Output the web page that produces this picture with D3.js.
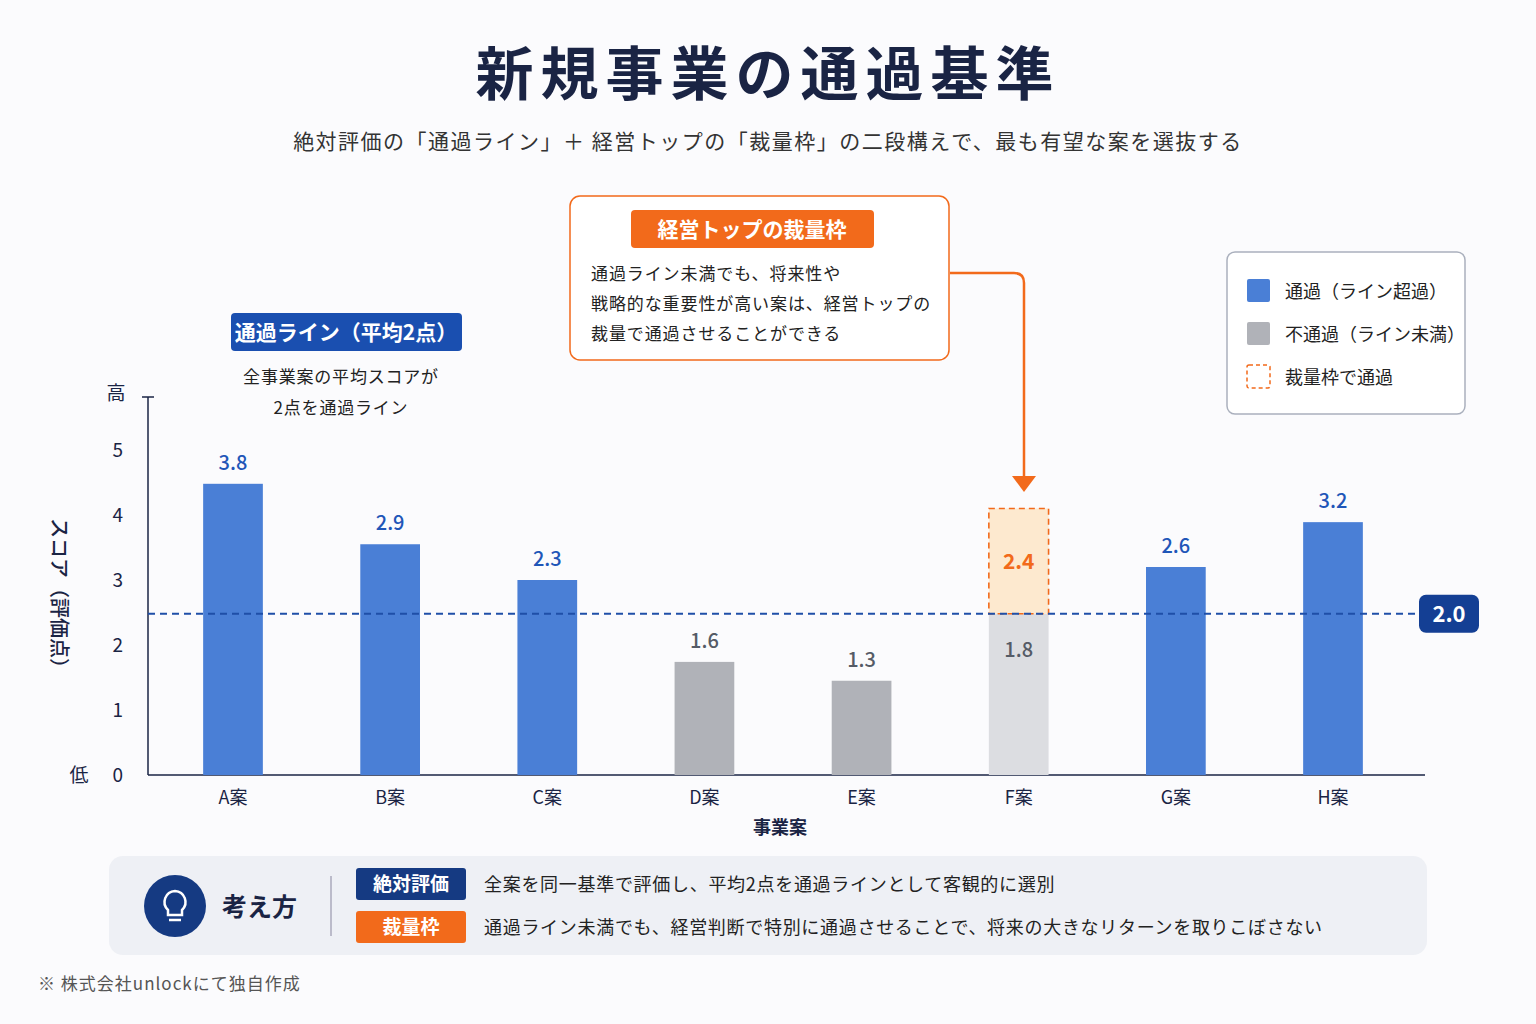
<!DOCTYPE html>
<html><head><meta charset="utf-8">
<script src="https://cdn.jsdelivr.net/npm/d3@7"></script>
<style>body{margin:0;background:#fbfbfd;font-family:"Noto Sans CJK JP","Noto Sans",sans-serif;}</style>
</head><body><div id="chart"></div>
<script>
// categories and values
var categories = ["A案","B案","C案","D案","E案","F案","G案","H案"];
var scoreLabels = ["3.8","2.9","2.3","1.6","1.3","1.8","2.6","3.2"];
// bar heights as drawn on the axis
var barHeights = [4.48, 3.55, 3.0, 1.74, 1.45, 2.48, 3.2, 3.89];
var passed = [true, true, true, false, false, false, true, true];
var discretionTop = 4.1, discretionLabel = "2.4";
var lineValue = 2.48, lineLabel = "2.0";
var yTicks = [0,1,2,3,4,5];

var W = 1536, H = 1024;
var svg = d3.select("#chart").append("svg").attr("width", W).attr("height", H);
var blue = "#4a7fd6", navy = "#143f94", orange = "#f26a1b", dark = "#1a2444";

svg.append("text").attr("x", 768).attr("y", 95).attr("text-anchor","middle")
  .attr("font-size", 58).attr("font-weight", 700).attr("fill", dark).attr("letter-spacing", 7)
  .text("新規事業の通過基準");
svg.append("text").attr("x", 768).attr("y", 149).attr("text-anchor","middle")
  .attr("font-size", 21).attr("fill", "#333").attr("letter-spacing", 1.5).text("絶対評価の「通過ライン」＋ 経営トップの「裁量枠」の二段構えで、最も有望な案を選抜する");

var x = d3.scaleBand().domain(categories).range([156, 1410]).paddingInner(0.62).paddingOuter(0.3);
var y = d3.scaleLinear().domain([0, 5.8]).range([775, 398]);

// axes
svg.append("line").attr("x1",148).attr("x2",148).attr("y1",397).attr("y2",775).attr("stroke",dark).attr("stroke-width",1.5);
svg.append("line").attr("x1",142).attr("x2",154).attr("y1",397).attr("y2",397).attr("stroke",dark).attr("stroke-width",1.5);
svg.append("line").attr("x1",148).attr("x2",1425).attr("y1",775).attr("y2",775).attr("stroke",dark).attr("stroke-width",1.5);
svg.selectAll(".yt").data(yTicks).enter().append("text")
  .attr("x",123).attr("y",function(d){return y(d)+7;}).attr("text-anchor","end")
  .attr("font-size",19).attr("fill",dark).text(function(d){return d;});
svg.append("text").attr("x",116).attr("y",400).attr("text-anchor","middle").attr("font-size",19).attr("fill",dark).text("高");
svg.append("text").attr("x",79).attr("y",782).attr("text-anchor","middle").attr("font-size",19).attr("fill",dark).text("低");
svg.append("text").attr("transform","translate(52,598) rotate(90)").attr("text-anchor","middle")
  .attr("font-size",20).attr("font-weight",500).attr("fill",dark).text("スコア（評価点）");
svg.selectAll(".xt").data(categories).enter().append("text")
  .attr("x",function(d){return x(d)+x.bandwidth()/2;}).attr("y",804).attr("text-anchor","middle")
  .attr("font-size",18).attr("fill",dark).text(function(d){return d;});
svg.append("text").attr("x",780).attr("y",834).attr("text-anchor","middle").attr("font-size",18).attr("font-weight",700).attr("fill",dark).text("事業案");

// bars
svg.selectAll(".bar").data(categories).enter().append("rect")
  .attr("x",function(d){return x(d);}).attr("width",x.bandwidth())
  .attr("y",function(d,i){return y(barHeights[i]);})
  .attr("height",function(d,i){return 775-y(barHeights[i]);})
  .attr("fill",function(d,i){return passed[i]?blue:(d==="F案"?"#dcdde1":"#b0b2b8");});
// discretion block
var fx = x("F案");
svg.append("rect").attr("x",fx).attr("width",x.bandwidth()).attr("y",y(discretionTop))
  .attr("height",y(lineValue)-y(discretionTop)).attr("fill","#fde9cf")
  .attr("stroke",orange).attr("stroke-width",1.6).attr("stroke-dasharray","6,4");
svg.append("text").attr("x",fx+x.bandwidth()/2).attr("y",(y(discretionTop)+y(lineValue))/2+8)
  .attr("text-anchor","middle").attr("font-size",21).attr("font-weight",700).attr("fill",orange).text(discretionLabel);
svg.selectAll(".lab").data(categories).enter().append("text")
  .attr("x",function(d){return x(d)+x.bandwidth()/2;})
  .attr("y",function(d,i){return d==="F案"?y(barHeights[i])+43:y(barHeights[i])-14;})
  .attr("text-anchor","middle").attr("font-size",20).attr("font-weight",500)
  .attr("fill",function(d,i){return passed[i]?"#1f56b8":"#555b66";})
  .text(function(d,i){return scoreLabels[i];});

// pass line
svg.append("line").attr("x1",148).attr("x2",1415).attr("y1",y(lineValue)).attr("y2",y(lineValue))
  .attr("stroke","#1f4fa8").attr("stroke-width",2).attr("stroke-dasharray","7,5");
svg.append("rect").attr("x",1419).attr("y",y(lineValue)-19).attr("width",60).attr("height",38).attr("rx",7).attr("fill",navy);
svg.append("text").attr("x",1449).attr("y",y(lineValue)+8).attr("text-anchor","middle").attr("font-size",22).attr("font-weight",700).attr("fill","#fff").text(lineLabel);

// pass line annotation
svg.append("rect").attr("x",231).attr("y",313).attr("width",231).attr("height",38).attr("rx",4).attr("fill","#1a4fb0");
svg.append("text").attr("x",346).attr("y",340).attr("text-anchor","middle").attr("font-size",21).attr("font-weight",700).attr("fill","#fff").text("通過ライン（平均2点）");
svg.append("text").attr("x",341).attr("y",383).attr("text-anchor","middle").attr("font-size",17).attr("fill","#222").attr("letter-spacing",0.8).text("全事業案の平均スコアが");
svg.append("text").attr("x",341).attr("y",414).attr("text-anchor","middle").attr("font-size",17).attr("fill","#222").attr("letter-spacing",0.8).text("2点を通過ライン");

// callout
svg.append("rect").attr("x",570).attr("y",196).attr("width",379).attr("height",164).attr("rx",10).attr("fill","#fff").attr("stroke",orange).attr("stroke-width",1.5);
svg.append("rect").attr("x",631).attr("y",210).attr("width",243).attr("height",38).attr("rx",4).attr("fill",orange);
svg.append("text").attr("x",752).attr("y",237).attr("text-anchor","middle").attr("font-size",21).attr("font-weight",700).attr("fill","#fff").text("経営トップの裁量枠");
["通過ライン未満でも、将来性や","戦略的な重要性が高い案は、経営トップの","裁量で通過させることができる"].forEach(function(t,i){
  svg.append("text").attr("x",591).attr("y",280+i*30).attr("font-size",17).attr("fill","#222").attr("letter-spacing",0.9).text(t);
});
svg.append("path").attr("d","M950,273 H1014 Q1024,273 1024,283 V478").attr("fill","none").attr("stroke",orange).attr("stroke-width",2.5);
svg.append("path").attr("d","M1012,476 L1036,476 L1024,492 Z").attr("fill",orange);

// legend
svg.append("rect").attr("x",1227).attr("y",252).attr("width",238).attr("height",162).attr("rx",8).attr("fill","#fff").attr("stroke","#aab0bd").attr("stroke-width",1.5);
var legend = [["通過（ライン超過）",blue,false],["不通過（ライン未満）","#b0b2b8",false],["裁量枠で通過","#fff",true]];
legend.forEach(function(l,i){
  var ly = 279+i*43;
  svg.append("rect").attr("x",1247).attr("y",ly).attr("width",23).attr("height",23).attr("rx",2).attr("fill",l[1])
    .attr("stroke",l[2]?orange:"none").attr("stroke-dasharray",l[2]?"4,3":null).attr("stroke-width",1.5);
  svg.append("text").attr("x",1285).attr("y",ly+19).attr("font-size",18).attr("fill","#222").text(l[0]);
});

// bottom panel
svg.append("rect").attr("x",109).attr("y",856).attr("width",1318).attr("height",99).attr("rx",14).attr("fill","#eef0f5");
svg.append("circle").attr("cx",175).attr("cy",906).attr("r",31).attr("fill","#153a82");
svg.append("path").attr("d","M175,891 a11,11 0 0 1 7,19 v5 h-14 v-5 a11,11 0 0 1 7,-19 Z").attr("fill","none").attr("stroke","#fff").attr("stroke-width",2.5);
svg.append("line").attr("x1",169).attr("x2",181).attr("y1",920).attr("y2",920).attr("stroke","#fff").attr("stroke-width",2.5);
svg.append("text").attr("x",222).attr("y",916).attr("font-size",25).attr("font-weight",700).attr("fill",dark).text("考え方");
svg.append("line").attr("x1",331).attr("x2",331).attr("y1",876).attr("y2",936).attr("stroke","#aab").attr("stroke-width",1.5);
[["絶対評価","#153a82","全案を同一基準で評価し、平均2点を通過ラインとして客観的に選別"],
 ["裁量枠",orange,"通過ライン未満でも、経営判断で特別に通過させることで、将来の大きなリターンを取りこぼさない"]].forEach(function(r,i){
  var ry = 868+i*43;
  svg.append("rect").attr("x",356).attr("y",ry).attr("width",110).attr("height",32).attr("rx",3).attr("fill",r[1]);
  svg.append("text").attr("x",411).attr("y",ry+23).attr("text-anchor","middle").attr("font-size",19).attr("font-weight",700).attr("fill","#fff").text(r[0]);
  svg.append("text").attr("x",484).attr("y",ry+23).attr("font-size",18).attr("fill","#222").attr("letter-spacing",0.7).text(r[2]);
});
svg.append("text").attr("x",38).attr("y",990).attr("font-size",17).attr("fill","#555").attr("letter-spacing",1).text("※ 株式会社unlockにて独自作成");
</script></body></html>
